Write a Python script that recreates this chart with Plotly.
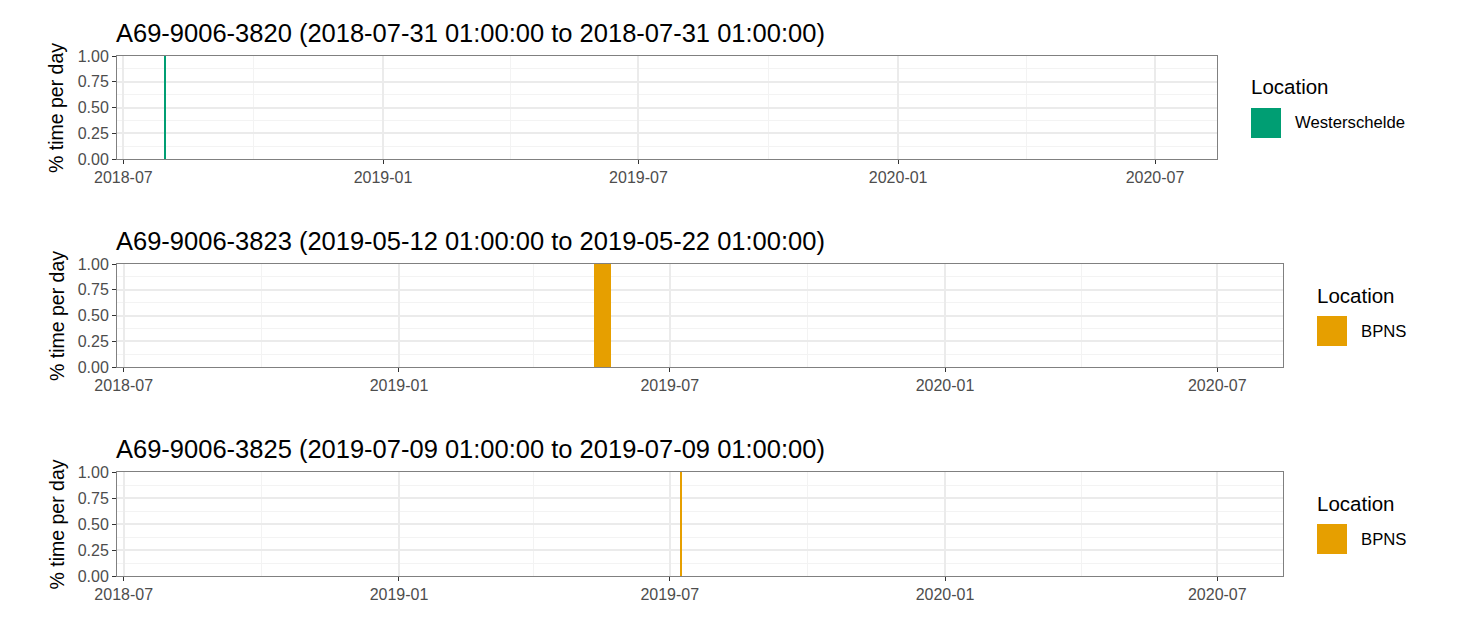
import plotly.graph_objects as go

# ---------------- data ----------------
panel_titles = [
    "A69-9006-3820 (2018-07-31 01:00:00 to 2018-07-31 01:00:00)",
    "A69-9006-3823 (2019-05-12 01:00:00 to 2019-05-22 01:00:00)",
    "A69-9006-3825 (2019-07-09 01:00:00 to 2019-07-09 01:00:00)",
]
locations = ["Westerschelde", "BPNS", "BPNS"]
dates_3820 = ["2018-07-31"]
values_3820 = [1.0]
dates_3823 = ["2019-05-12", "2019-05-13", "2019-05-14", "2019-05-15", "2019-05-16",
              "2019-05-17", "2019-05-18", "2019-05-19", "2019-05-20", "2019-05-21",
              "2019-05-22"]
values_3823 = [1.0] * 11
dates_3825 = ["2019-07-09"]
values_3825 = [1.0]
location_colors = {"Westerschelde": "#009E73", "BPNS": "#E69F00"}
x_range = ["2018-06-26 12:00", "2020-08-13 22:00"]
y_ticks = [0, 0.25, 0.5, 0.75, 1.0]

series = [(dates_3820, values_3820), (dates_3823, values_3823), (dates_3825, values_3825)]

# ---------------- layout geometry (pixels) ----------------
W, H = 1457, 624
FONT = "Liberation Sans, Arial, sans-serif"
panels_px = [  # x0, x1, ytop, ybottom
    (117, 1217, 56, 159),
    (117, 1283, 264, 367),
    (117, 1283, 472, 576),
]
legend_px = [  # key x0, key y0 (top)
    (1251, 108),
    (1317, 316),
    (1317, 524),
]

def px(x):
    return x / W

def py(y):
    return 1 - y / H

fig = go.Figure()
DAY_MS = 86400000
annotations = []
shapes = []
layout_axes = {}

for i, ((dts, vals), title, loc, (x0, x1, yt, yb), (lx, ly)) in enumerate(
        zip(series, panel_titles, locations, panels_px, legend_px)):
    n = "" if i == 0 else str(i + 1)
    color = location_colors[loc]
    fig.add_trace(go.Bar(
        x=dts, y=vals, width=[DAY_MS] * len(dts),
        marker=dict(color=color, line=dict(width=0)),
        name=loc, showlegend=False,
        xaxis="x" + n, yaxis="y" + n,
    ))
    layout_axes["xaxis" + n] = dict(
        domain=[px(x0), px(x1)], anchor="y" + n, type="date",
        range=x_range, dtick="M6", tick0="2018-07-01", tickformat="%Y-%m",
        showgrid=True, gridcolor="#EBEBEB", gridwidth=1.5,
        minor=dict(dtick="M3", tick0="2018-07-01", showgrid=True,
                   gridcolor="#F3F3F3", gridwidth=1),
        ticks="outside", ticklen=4, tickcolor="#333333", tickwidth=1,
        tickfont=dict(family=FONT, size=16, color="#4D4D4D"),
        showline=True, linecolor="#808080", linewidth=1, mirror=True,
        zeroline=False, fixedrange=True, automargin=False,
    )
    layout_axes["yaxis" + n] = dict(
        domain=[py(yb), py(yt)], anchor="x" + n,
        range=[0, 1], tickvals=y_ticks, tickformat=".2f",
        showgrid=True, gridcolor="#EBEBEB", gridwidth=1.5,
        minor=dict(dtick=0.125, tick0=0, showgrid=True, gridcolor="#F3F3F3", gridwidth=1),
        ticks="outside", ticklen=4, tickcolor="#333333", tickwidth=1,
        tickfont=dict(family=FONT, size=16, color="#4D4D4D"),
        showline=True, linecolor="#808080", linewidth=1, mirror=True,
        zeroline=False, fixedrange=True, automargin=False,
    )
    # panel title
    annotations.append(dict(
        text=title, xref="paper", yref="paper", x=px(x0 - 3), y=py(yt - 23.5),
        xanchor="left", yanchor="middle", showarrow=False,
        font=dict(family=FONT, size=25.5, color="#000000"),
    ))
    # y axis title
    annotations.append(dict(
        text="% time per day", xref="paper", yref="paper", x=px(56.5), y=py((yt + yb) / 2 + 1),
        xanchor="center", yanchor="middle", textangle=-90, showarrow=False,
        font=dict(family=FONT, size=19.5, color="#000000"),
    ))
    # legend
    annotations.append(dict(
        text="Location", xref="paper", yref="paper", x=px(lx - 2), y=py(ly - 21),
        xanchor="left", yanchor="middle", showarrow=False,
        font=dict(family=FONT, size=20.5, color="#000000"),
    ))
    shapes.append(dict(
        type="rect", xref="paper", yref="paper",
        x0=px(lx), x1=px(lx + 30), y0=py(ly + 30), y1=py(ly),
        fillcolor=color, line=dict(width=0),
    ))
    annotations.append(dict(
        text=loc, xref="paper", yref="paper", x=px(lx + 42), y=py(ly + 15),
        xanchor="left", yanchor="middle", showarrow=False,
        font=dict(family=FONT, size=16.7, color="#000000"),
    ))

fig.update_layout(
    template="none",
    width=W, height=H, autosize=False,
    margin=dict(l=0, r=0, t=0, b=0, pad=0, autoexpand=False),
    paper_bgcolor="white", plot_bgcolor="white",
    showlegend=False, bargap=0,
    annotations=annotations, shapes=shapes,
    **layout_axes,
)

fig.write_html(
    "out.html",
    config={"displayModeBar": False},
    post_script="document.body.style.margin='0';document.body.style.overflow='hidden';",
)
